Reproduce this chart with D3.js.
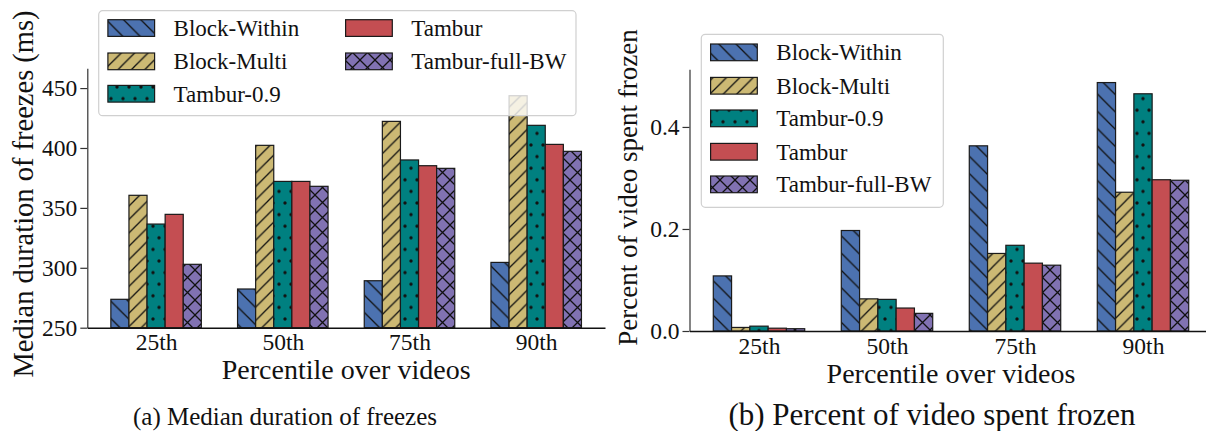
<!DOCTYPE html>
<html>
<head>
<meta charset="utf-8">
<script src="https://cdn.jsdelivr.net/npm/d3@7"></script>
<style>
  html, body { margin: 0; padding: 0; background: #fff; }
  svg { display: block; font-family: "Liberation Serif", "Times New Roman", serif; }
</style>
</head>
<body>
<svg id="fig" width="1206" height="431"></svg>
<script>
// ---- data ----
const categories = ["25th", "50th", "75th", "90th"];
const seriesNames = ["Block-Within", "Block-Multi", "Tambur-0.9", "Tambur", "Tambur-full-BW"];
const seriesColors = ["#4c72b0", "#ccb974", "#008080", "#c44e52", "#8172b2"];
const seriesHatches = ["back", "fwd", "dots", "none", "cross"];

// (a) median duration of freezes, ms
const durBlockWithin  = [273.7, 282.3, 289.2, 304.5];
const durBlockMulti   = [360.5, 402.2, 422.2, 443.6];
const durTambur09     = [336.5, 372.1, 390.0, 418.9];
const durTambur       = [344.6, 372.1, 385.2, 403.0];
const durTamburFullBW = [302.9, 368.0, 383.0, 397.2];
const durTicks = [250, 300, 350, 400, 450];

// (b) fraction of video spent frozen
const fracBlockWithin  = [0.108, 0.197, 0.363, 0.487];
const fracBlockMulti   = [0.007, 0.063, 0.152, 0.272];
const fracTambur09     = [0.0095, 0.062, 0.168, 0.465];
const fracTambur       = [0.0055, 0.045, 0.133, 0.2965];
const fracTamburFullBW = [0.0045, 0.0346, 0.129, 0.2955];
const fracTicks = [0.0, 0.2, 0.4];

const svg = d3.select("#fig");
const defs = svg.append("defs");

// ---- hatch patterns ----
const HATCH = "#111";
function makePattern(id, color, kind) {
  if (kind === "none") return null;
  let p;
  if (kind === "back") {
    const s = 17.3;
    p = defs.append("pattern").attr("id", id).attr("patternUnits", "userSpaceOnUse")
      .attr("width", s).attr("height", s);
    p.append("rect").attr("width", s).attr("height", s).attr("fill", color);
    p.append("path").attr("d", `M-2,-2L${s + 2},${s + 2}M${s - 2},-2L${s + 2},2M-2,${s - 2}L2,${s + 2}`)
      .attr("stroke", HATCH).attr("stroke-width", 1.3);
  } else if (kind === "fwd") {
    const s = 13.4;
    p = defs.append("pattern").attr("id", id).attr("patternUnits", "userSpaceOnUse")
      .attr("width", s).attr("height", s);
    p.append("rect").attr("width", s).attr("height", s).attr("fill", color);
    p.append("path").attr("d", `M-2,${s + 2}L${s + 2},-2M-2,2L2,-2M${s - 2},${s + 2}L${s + 2},${s - 2}`)
      .attr("stroke", HATCH).attr("stroke-width", 1.3);
  } else if (kind === "cross") {
    const s = 15;
    p = defs.append("pattern").attr("id", id).attr("patternUnits", "userSpaceOnUse")
      .attr("width", s).attr("height", s);
    p.append("rect").attr("width", s).attr("height", s).attr("fill", color);
    p.append("path").attr("d",
      `M-2,-2L${s + 2},${s + 2}M${s - 2},-2L${s + 2},2M-2,${s - 2}L2,${s + 2}` +
      `M-2,${s + 2}L${s + 2},-2M-2,2L2,-2M${s - 2},${s + 2}L${s + 2},${s - 2}`)
      .attr("stroke", HATCH).attr("stroke-width", 1.3);
  } else if (kind === "dots") {
    const w = 12, h = 23.2;
    p = defs.append("pattern").attr("id", id).attr("patternUnits", "userSpaceOnUse")
      .attr("width", w).attr("height", h);
    p.append("rect").attr("width", w).attr("height", h).attr("fill", color);
    [[3, 5.8], [9, 17.4]].forEach(([cx, cy]) =>
      p.append("circle").attr("cx", cx).attr("cy", cy).attr("r", 1.7).attr("fill", HATCH));
  }
  return `url(#${id})`;
}
const seriesFill = seriesNames.map((n, i) =>
  makePattern("hatch" + i, seriesColors[i], seriesHatches[i]) || seriesColors[i]);

// ---- one panel ----
function drawPanel(cfg) {
  const g = svg.append("g");
  const x = d3.scaleLinear().domain([-0.543, 3.543]).range([cfg.left, cfg.right]);
  const y = d3.scaleLinear().domain(cfg.yDomain).range([cfg.bottom, cfg.top]);
  const bw = 1 / 7;

  // bars
  cfg.series.forEach((vals, si) => {
    g.append("g").selectAll("rect").data(vals).join("rect")
      .attr("x", (d, ci) => x(ci + (si - 2.5) * bw))
      .attr("y", d => y(d))
      .attr("width", x(bw) - x(0))
      .attr("height", d => y(cfg.yDomain[0]) - y(d))
      .attr("fill", seriesFill[si])
      .attr("stroke", "#1a1a1a")
      .attr("stroke-width", 1.2);
  });

  // y axis
  const yAxis = g.append("g").attr("transform", `translate(${cfg.left},0)`)
    .call(d3.axisLeft(y).tickValues(cfg.ticks).tickFormat(cfg.tickFormat)
      .tickSize(7).tickPadding(3).tickSizeOuter(0));
  yAxis.select(".domain").attr("stroke", "#333").attr("stroke-width", 1.2);
  yAxis.selectAll(".tick line").attr("stroke", "#333").attr("stroke-width", 1.2);
  yAxis.selectAll(".tick text").attr("font-size", 23.5).attr("fill", "#111")
    .attr("font-family", "Liberation Serif");

  // x axis
  const xAxis = g.append("g").attr("transform", `translate(0,${cfg.bottom})`)
    .call(d3.axisBottom(x).tickValues(d3.range(categories.length))
      .tickFormat(i => categories[i]).tickSize(0).tickPadding(6).tickSizeOuter(0));
  xAxis.select(".domain").attr("stroke", "#111").attr("stroke-width", 1.4);
  xAxis.selectAll(".tick text").attr("font-size", 23.5).attr("fill", "#111")
    .attr("font-family", "Liberation Serif");

  // axis titles
  g.append("text")
    .attr("transform", `translate(${cfg.ylabelX},${cfg.ylabelY}) rotate(-90)`)
    .attr("text-anchor", "middle").attr("font-size", cfg.ylabelSize).attr("fill", "#111")
    .text(cfg.ylabel);
  g.append("text").attr("x", (cfg.left + cfg.right) / 2).attr("y", cfg.xlabelY)
    .attr("text-anchor", "middle").attr("font-size", 28).attr("fill", "#111")
    .text("Percentile over videos");

  // caption
  g.append("text").attr("x", cfg.captionX).attr("y", 425)
    .attr("text-anchor", "middle").attr("font-size", cfg.captionSize).attr("fill", "#111")
    .text(cfg.caption);

  // legend
  const L = cfg.legend;
  const lg = svg.append("g");
  lg.append("rect").attr("x", L.x).attr("y", L.y).attr("width", L.w).attr("height", L.h)
    .attr("rx", 4).attr("fill", "#fff").attr("fill-opacity", 0.8)
    .attr("stroke", "#d0d0d0").attr("stroke-width", 1.2);
  L.items.forEach(it => {
    const si = it.s;
    lg.append("rect").attr("x", it.px).attr("y", it.cy - 8.3).attr("width", 46.7).attr("height", 16.7)
      .attr("fill", seriesFill[si]).attr("stroke", "#1a1a1a").attr("stroke-width", 1.2);
    lg.append("text").attr("x", it.px + 65.7).attr("y", it.cy).attr("dy", "0.34em")
      .attr("font-size", 23).attr("fill", "#111").text(seriesNames[si]);
  });
}

drawPanel({
  left: 87.3, right: 605, top: 68.3, bottom: 327.7,
  yDomain: [250, 466.5], ticks: durTicks, tickFormat: d3.format("d"),
  series: [durBlockWithin, durBlockMulti, durTambur09, durTambur, durTamburFullBW],
  ylabel: "Median duration of freezes (ms)", ylabelX: 33, ylabelY: 194, ylabelSize: 28.5,
  xlabelY: 379, caption: "(a) Median duration of freezes", captionX: 285, captionSize: 25,
  legend: {
    x: 98.7, y: 10.7, w: 477.3, h: 105,
    items: [
      { s: 0, px: 107.9, cy: 28 }, { s: 1, px: 107.9, cy: 61.3 }, { s: 2, px: 107.9, cy: 93.7 },
      { s: 3, px: 345.6, cy: 28 }, { s: 4, px: 345.6, cy: 61.3 }
    ]
  }
});

drawPanel({
  left: 689.5, right: 1212.5, top: 69.3, bottom: 331,
  yDomain: [0, 0.513], ticks: fracTicks, tickFormat: d3.format(".1f"),
  series: [fracBlockWithin, fracBlockMulti, fracTambur09, fracTambur, fracTamburFullBW],
  ylabel: "Percent of video spent frozen", ylabelX: 637, ylabelY: 187.5, ylabelSize: 27,
  xlabelY: 383, caption: "(b) Percent of video spent frozen", captionX: 932, captionSize: 31,
  legend: {
    x: 701.3, y: 34.3, w: 242, h: 173,
    items: [
      { s: 0, px: 710.6, cy: 52.3 }, { s: 1, px: 710.6, cy: 85.7 }, { s: 2, px: 710.6, cy: 118.3 },
      { s: 3, px: 710.6, cy: 151.7 }, { s: 4, px: 710.6, cy: 184.3 }
    ]
  }
});
</script>
</body>
</html>
